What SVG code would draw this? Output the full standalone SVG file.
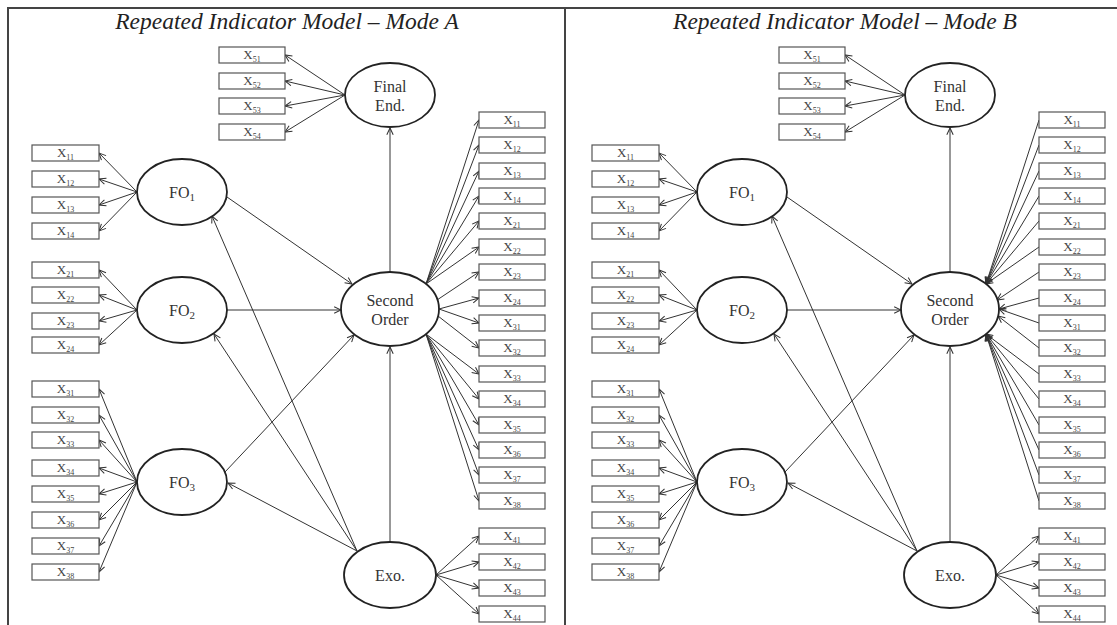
<svg xmlns="http://www.w3.org/2000/svg" width="1117" height="625" viewBox="0 0 1117 625">
<defs>
<style>
.frame{stroke:#444;stroke-width:2;fill:none}
.title{font-family:"Liberation Serif",serif;font-style:italic;font-size:23.5px;fill:#222;text-anchor:middle}
.box rect{fill:#fff;stroke:#555;stroke-width:1.2}
.box text{font-family:"Liberation Serif",serif;font-size:13px;fill:#444;text-anchor:middle}
.sub{font-size:8px}
.lat ellipse{fill:#fff;stroke:#222;stroke-width:1.8}
.lat text{font-family:"Liberation Serif",serif;font-size:16px;fill:#333;text-anchor:middle}
.lsub{font-size:11px}
.conn line{stroke:#333;stroke-width:1;marker-end:url(#arr)}
</style>
<marker id="arr" viewBox="0 0 10 10" refX="9.5" refY="5" markerWidth="8" markerHeight="8" markerUnits="userSpaceOnUse" orient="auto">
<path d="M1,1 L9.5,5 L1,9" fill="none" stroke="#333" stroke-width="1.3"/>
</marker>
</defs>
<rect width="1117" height="625" fill="#fff"/>
<path class="frame" d="M7,8 H1117 M8,8 V625 M565,8 V625"/>

<!-- ================= PANEL A ================= -->
<g id="panelA">
<text class="title" x="287" y="29">Repeated Indicator Model – Mode A</text>
<g id="a-connectors" class="conn">
<line x1="137" y1="192" x2="99" y2="153"/><line x1="137" y1="192" x2="99" y2="179"/><line x1="137" y1="192" x2="99" y2="205"/><line x1="137" y1="192" x2="99" y2="231"/>
<line x1="137" y1="310" x2="99" y2="270"/><line x1="137" y1="310" x2="99" y2="295"/><line x1="137" y1="310" x2="99" y2="321"/><line x1="137" y1="310" x2="99" y2="345"/>
<line x1="137" y1="482" x2="99" y2="389"/><line x1="137" y1="482" x2="99" y2="415"/><line x1="137" y1="482" x2="99" y2="440"/><line x1="137" y1="482" x2="99" y2="468"/><line x1="137" y1="482" x2="99" y2="494"/><line x1="137" y1="482" x2="99" y2="520"/><line x1="137" y1="482" x2="99" y2="546"/><line x1="137" y1="482" x2="99" y2="572"/>
<line x1="345" y1="95" x2="285" y2="55"/><line x1="345" y1="95" x2="285" y2="81"/><line x1="345" y1="95" x2="285" y2="106"/><line x1="345" y1="95" x2="285" y2="132"/>
<line x1="227" y1="197" x2="352" y2="284"/>
<line x1="227" y1="310" x2="341" y2="310"/>
<line x1="225" y1="472" x2="354" y2="335"/>
<line x1="390" y1="272" x2="390" y2="128"/>
<line x1="390" y1="542" x2="390" y2="347"/>
<line x1="357" y1="551" x2="212" y2="216"/>
<line x1="357" y1="551" x2="214" y2="334"/>
<line x1="357" y1="551" x2="228" y2="483"/>
<line x1="436" y1="575" x2="479" y2="536"/><line x1="436" y1="575" x2="479" y2="562"/><line x1="436" y1="575" x2="479" y2="588"/><line x1="436" y1="575" x2="479" y2="614"/>
<line x1="426" y1="284" x2="479" y2="120"/><line x1="426" y1="284" x2="479" y2="145"/><line x1="426" y1="284" x2="479" y2="171"/><line x1="426" y1="284" x2="479" y2="196"/><line x1="426" y1="284" x2="479" y2="221"/><line x1="426" y1="284" x2="479" y2="247"/>
<line x1="437" y1="300" x2="479" y2="272"/>
<line x1="439" y1="309" x2="479" y2="298"/><line x1="439" y1="309" x2="479" y2="323"/>
<line x1="438" y1="316" x2="479" y2="348"/>
<line x1="426" y1="334" x2="479" y2="374"/><line x1="426" y1="334" x2="479" y2="399"/><line x1="426" y1="334" x2="479" y2="425"/><line x1="426" y1="334" x2="479" y2="450"/><line x1="426" y1="334" x2="479" y2="475"/><line x1="426" y1="334" x2="479" y2="501"/>
</g>
<g id="a-final" class="lat"><ellipse cx="390" cy="95" rx="45" ry="32"/><text x="390" y="92">Final</text><text x="390" y="111">End.</text></g>
<g id="a-fo1" class="lat"><ellipse cx="182" cy="192" rx="45" ry="33"/><text x="182" y="198">FO<tspan class="lsub" dy="3">1</tspan></text></g>
<g id="a-fo2" class="lat"><ellipse cx="182" cy="310" rx="45" ry="33"/><text x="182" y="316">FO<tspan class="lsub" dy="3">2</tspan></text></g>
<g id="a-fo3" class="lat"><ellipse cx="182" cy="482" rx="45" ry="33"/><text x="182" y="488">FO<tspan class="lsub" dy="3">3</tspan></text></g>
<g id="a-second" class="lat"><ellipse cx="390" cy="309" rx="49" ry="37"/><text x="390" y="306">Second</text><text x="390" y="325">Order</text></g>
<g id="a-exo" class="lat"><ellipse cx="390" cy="575" rx="46" ry="33"/><text x="390" y="581">Exo.</text></g>

<g id="a-fo1-x11" class="box"><rect x="32" y="145" width="67" height="16"/><text x="65.5" y="157">X<tspan class="sub" dy="2.5">11</tspan></text></g>
<g id="a-fo1-x12" class="box"><rect x="32" y="171" width="67" height="16"/><text x="65.5" y="183">X<tspan class="sub" dy="2.5">12</tspan></text></g>
<g id="a-fo1-x13" class="box"><rect x="32" y="197" width="67" height="16"/><text x="65.5" y="209">X<tspan class="sub" dy="2.5">13</tspan></text></g>
<g id="a-fo1-x14" class="box"><rect x="32" y="223" width="67" height="16"/><text x="65.5" y="235">X<tspan class="sub" dy="2.5">14</tspan></text></g>
<g id="a-fo2-x21" class="box"><rect x="32" y="262" width="67" height="16"/><text x="65.5" y="274">X<tspan class="sub" dy="2.5">21</tspan></text></g>
<g id="a-fo2-x22" class="box"><rect x="32" y="287" width="67" height="16"/><text x="65.5" y="299">X<tspan class="sub" dy="2.5">22</tspan></text></g>
<g id="a-fo2-x23" class="box"><rect x="32" y="313" width="67" height="16"/><text x="65.5" y="325">X<tspan class="sub" dy="2.5">23</tspan></text></g>
<g id="a-fo2-x24" class="box"><rect x="32" y="337" width="67" height="16"/><text x="65.5" y="349">X<tspan class="sub" dy="2.5">24</tspan></text></g>
<g id="a-fo3-x31" class="box"><rect x="32" y="381" width="67" height="16"/><text x="65.5" y="393">X<tspan class="sub" dy="2.5">31</tspan></text></g>
<g id="a-fo3-x32" class="box"><rect x="32" y="407" width="67" height="16"/><text x="65.5" y="419">X<tspan class="sub" dy="2.5">32</tspan></text></g>
<g id="a-fo3-x33" class="box"><rect x="32" y="432" width="67" height="16"/><text x="65.5" y="444">X<tspan class="sub" dy="2.5">33</tspan></text></g>
<g id="a-fo3-x34" class="box"><rect x="32" y="460" width="67" height="16"/><text x="65.5" y="472">X<tspan class="sub" dy="2.5">34</tspan></text></g>
<g id="a-fo3-x35" class="box"><rect x="32" y="486" width="67" height="16"/><text x="65.5" y="498">X<tspan class="sub" dy="2.5">35</tspan></text></g>
<g id="a-fo3-x36" class="box"><rect x="32" y="512" width="67" height="16"/><text x="65.5" y="524">X<tspan class="sub" dy="2.5">36</tspan></text></g>
<g id="a-fo3-x37" class="box"><rect x="32" y="538" width="67" height="16"/><text x="65.5" y="550">X<tspan class="sub" dy="2.5">37</tspan></text></g>
<g id="a-fo3-x38" class="box"><rect x="32" y="564" width="67" height="16"/><text x="65.5" y="576">X<tspan class="sub" dy="2.5">38</tspan></text></g>
<g id="a-fe-x51" class="box"><rect x="219" y="47" width="66" height="16"/><text x="252" y="59">X<tspan class="sub" dy="2.5">51</tspan></text></g>
<g id="a-fe-x52" class="box"><rect x="219" y="73" width="66" height="16"/><text x="252" y="85">X<tspan class="sub" dy="2.5">52</tspan></text></g>
<g id="a-fe-x53" class="box"><rect x="219" y="98" width="66" height="16"/><text x="252" y="110">X<tspan class="sub" dy="2.5">53</tspan></text></g>
<g id="a-fe-x54" class="box"><rect x="219" y="124" width="66" height="16"/><text x="252" y="136">X<tspan class="sub" dy="2.5">54</tspan></text></g>
<g id="a-so-x11" class="box"><rect x="479" y="112" width="66" height="16"/><text x="512" y="124">X<tspan class="sub" dy="2.5">11</tspan></text></g>
<g id="a-so-x12" class="box"><rect x="479" y="137" width="66" height="16"/><text x="512" y="149">X<tspan class="sub" dy="2.5">12</tspan></text></g>
<g id="a-so-x13" class="box"><rect x="479" y="163" width="66" height="16"/><text x="512" y="175">X<tspan class="sub" dy="2.5">13</tspan></text></g>
<g id="a-so-x14" class="box"><rect x="479" y="188" width="66" height="16"/><text x="512" y="200">X<tspan class="sub" dy="2.5">14</tspan></text></g>
<g id="a-so-x21" class="box"><rect x="479" y="213" width="66" height="16"/><text x="512" y="225">X<tspan class="sub" dy="2.5">21</tspan></text></g>
<g id="a-so-x22" class="box"><rect x="479" y="239" width="66" height="16"/><text x="512" y="251">X<tspan class="sub" dy="2.5">22</tspan></text></g>
<g id="a-so-x23" class="box"><rect x="479" y="264" width="66" height="16"/><text x="512" y="276">X<tspan class="sub" dy="2.5">23</tspan></text></g>
<g id="a-so-x24" class="box"><rect x="479" y="290" width="66" height="16"/><text x="512" y="302">X<tspan class="sub" dy="2.5">24</tspan></text></g>
<g id="a-so-x31" class="box"><rect x="479" y="315" width="66" height="16"/><text x="512" y="327">X<tspan class="sub" dy="2.5">31</tspan></text></g>
<g id="a-so-x32" class="box"><rect x="479" y="340" width="66" height="16"/><text x="512" y="352">X<tspan class="sub" dy="2.5">32</tspan></text></g>
<g id="a-so-x33" class="box"><rect x="479" y="366" width="66" height="16"/><text x="512" y="378">X<tspan class="sub" dy="2.5">33</tspan></text></g>
<g id="a-so-x34" class="box"><rect x="479" y="391" width="66" height="16"/><text x="512" y="403">X<tspan class="sub" dy="2.5">34</tspan></text></g>
<g id="a-so-x35" class="box"><rect x="479" y="417" width="66" height="16"/><text x="512" y="429">X<tspan class="sub" dy="2.5">35</tspan></text></g>
<g id="a-so-x36" class="box"><rect x="479" y="442" width="66" height="16"/><text x="512" y="454">X<tspan class="sub" dy="2.5">36</tspan></text></g>
<g id="a-so-x37" class="box"><rect x="479" y="467" width="66" height="16"/><text x="512" y="479">X<tspan class="sub" dy="2.5">37</tspan></text></g>
<g id="a-so-x38" class="box"><rect x="479" y="493" width="66" height="16"/><text x="512" y="505">X<tspan class="sub" dy="2.5">38</tspan></text></g>
<g id="a-exo-x41" class="box"><rect x="479" y="528" width="66" height="16"/><text x="512" y="540">X<tspan class="sub" dy="2.5">41</tspan></text></g>
<g id="a-exo-x42" class="box"><rect x="479" y="554" width="66" height="16"/><text x="512" y="566">X<tspan class="sub" dy="2.5">42</tspan></text></g>
<g id="a-exo-x43" class="box"><rect x="479" y="580" width="66" height="16"/><text x="512" y="592">X<tspan class="sub" dy="2.5">43</tspan></text></g>
<g id="a-exo-x44" class="box"><rect x="479" y="606" width="66" height="16"/><text x="512" y="618">X<tspan class="sub" dy="2.5">44</tspan></text></g>
</g>

<!-- ================= PANEL B ================= -->
<g id="panelB" transform="translate(560,0)">
<text class="title" x="285" y="29">Repeated Indicator Model – Mode B</text>
<g id="b-connectors" class="conn">
<line x1="137" y1="192" x2="99" y2="153"/><line x1="137" y1="192" x2="99" y2="179"/><line x1="137" y1="192" x2="99" y2="205"/><line x1="137" y1="192" x2="99" y2="231"/>
<line x1="137" y1="310" x2="99" y2="270"/><line x1="137" y1="310" x2="99" y2="295"/><line x1="137" y1="310" x2="99" y2="321"/><line x1="137" y1="310" x2="99" y2="345"/>
<line x1="137" y1="482" x2="99" y2="389"/><line x1="137" y1="482" x2="99" y2="415"/><line x1="137" y1="482" x2="99" y2="440"/><line x1="137" y1="482" x2="99" y2="468"/><line x1="137" y1="482" x2="99" y2="494"/><line x1="137" y1="482" x2="99" y2="520"/><line x1="137" y1="482" x2="99" y2="546"/><line x1="137" y1="482" x2="99" y2="572"/>
<line x1="345" y1="95" x2="285" y2="55"/><line x1="345" y1="95" x2="285" y2="81"/><line x1="345" y1="95" x2="285" y2="106"/><line x1="345" y1="95" x2="285" y2="132"/>
<line x1="227" y1="197" x2="352" y2="284"/>
<line x1="227" y1="310" x2="341" y2="310"/>
<line x1="225" y1="472" x2="354" y2="335"/>
<line x1="390" y1="272" x2="390" y2="128"/>
<line x1="390" y1="542" x2="390" y2="347"/>
<line x1="357" y1="551" x2="212" y2="216"/>
<line x1="357" y1="551" x2="214" y2="334"/>
<line x1="357" y1="551" x2="228" y2="483"/>
<line x1="436" y1="575" x2="479" y2="536"/><line x1="436" y1="575" x2="479" y2="562"/><line x1="436" y1="575" x2="479" y2="588"/><line x1="436" y1="575" x2="479" y2="614"/>
<line x2="426" y2="284" x1="479" y1="120"/><line x2="426" y2="284" x1="479" y1="145"/><line x2="426" y2="284" x1="479" y1="171"/><line x2="426" y2="284" x1="479" y1="196"/><line x2="426" y2="284" x1="479" y1="221"/><line x2="426" y2="284" x1="479" y1="247"/>
<line x2="437" y2="300" x1="479" y1="272"/>
<line x2="439" y2="309" x1="479" y1="298"/><line x2="439" y2="309" x1="479" y1="323"/>
<line x2="438" y2="316" x1="479" y1="348"/>
<line x2="426" y2="334" x1="479" y1="374"/><line x2="426" y2="334" x1="479" y1="399"/><line x2="426" y2="334" x1="479" y1="425"/><line x2="426" y2="334" x1="479" y1="450"/><line x2="426" y2="334" x1="479" y1="475"/><line x2="426" y2="334" x1="479" y1="501"/>
</g>
<g id="b-final" class="lat"><ellipse cx="390" cy="95" rx="45" ry="32"/><text x="390" y="92">Final</text><text x="390" y="111">End.</text></g>
<g id="b-fo1" class="lat"><ellipse cx="182" cy="192" rx="45" ry="33"/><text x="182" y="198">FO<tspan class="lsub" dy="3">1</tspan></text></g>
<g id="b-fo2" class="lat"><ellipse cx="182" cy="310" rx="45" ry="33"/><text x="182" y="316">FO<tspan class="lsub" dy="3">2</tspan></text></g>
<g id="b-fo3" class="lat"><ellipse cx="182" cy="482" rx="45" ry="33"/><text x="182" y="488">FO<tspan class="lsub" dy="3">3</tspan></text></g>
<g id="b-second" class="lat"><ellipse cx="390" cy="309" rx="49" ry="37"/><text x="390" y="306">Second</text><text x="390" y="325">Order</text></g>
<g id="b-exo" class="lat"><ellipse cx="390" cy="575" rx="46" ry="33"/><text x="390" y="581">Exo.</text></g>

<g id="b-fo1-x11" class="box"><rect x="32" y="145" width="67" height="16"/><text x="65.5" y="157">X<tspan class="sub" dy="2.5">11</tspan></text></g>
<g id="b-fo1-x12" class="box"><rect x="32" y="171" width="67" height="16"/><text x="65.5" y="183">X<tspan class="sub" dy="2.5">12</tspan></text></g>
<g id="b-fo1-x13" class="box"><rect x="32" y="197" width="67" height="16"/><text x="65.5" y="209">X<tspan class="sub" dy="2.5">13</tspan></text></g>
<g id="b-fo1-x14" class="box"><rect x="32" y="223" width="67" height="16"/><text x="65.5" y="235">X<tspan class="sub" dy="2.5">14</tspan></text></g>
<g id="b-fo2-x21" class="box"><rect x="32" y="262" width="67" height="16"/><text x="65.5" y="274">X<tspan class="sub" dy="2.5">21</tspan></text></g>
<g id="b-fo2-x22" class="box"><rect x="32" y="287" width="67" height="16"/><text x="65.5" y="299">X<tspan class="sub" dy="2.5">22</tspan></text></g>
<g id="b-fo2-x23" class="box"><rect x="32" y="313" width="67" height="16"/><text x="65.5" y="325">X<tspan class="sub" dy="2.5">23</tspan></text></g>
<g id="b-fo2-x24" class="box"><rect x="32" y="337" width="67" height="16"/><text x="65.5" y="349">X<tspan class="sub" dy="2.5">24</tspan></text></g>
<g id="b-fo3-x31" class="box"><rect x="32" y="381" width="67" height="16"/><text x="65.5" y="393">X<tspan class="sub" dy="2.5">31</tspan></text></g>
<g id="b-fo3-x32" class="box"><rect x="32" y="407" width="67" height="16"/><text x="65.5" y="419">X<tspan class="sub" dy="2.5">32</tspan></text></g>
<g id="b-fo3-x33" class="box"><rect x="32" y="432" width="67" height="16"/><text x="65.5" y="444">X<tspan class="sub" dy="2.5">33</tspan></text></g>
<g id="b-fo3-x34" class="box"><rect x="32" y="460" width="67" height="16"/><text x="65.5" y="472">X<tspan class="sub" dy="2.5">34</tspan></text></g>
<g id="b-fo3-x35" class="box"><rect x="32" y="486" width="67" height="16"/><text x="65.5" y="498">X<tspan class="sub" dy="2.5">35</tspan></text></g>
<g id="b-fo3-x36" class="box"><rect x="32" y="512" width="67" height="16"/><text x="65.5" y="524">X<tspan class="sub" dy="2.5">36</tspan></text></g>
<g id="b-fo3-x37" class="box"><rect x="32" y="538" width="67" height="16"/><text x="65.5" y="550">X<tspan class="sub" dy="2.5">37</tspan></text></g>
<g id="b-fo3-x38" class="box"><rect x="32" y="564" width="67" height="16"/><text x="65.5" y="576">X<tspan class="sub" dy="2.5">38</tspan></text></g>
<g id="b-fe-x51" class="box"><rect x="219" y="47" width="66" height="16"/><text x="252" y="59">X<tspan class="sub" dy="2.5">51</tspan></text></g>
<g id="b-fe-x52" class="box"><rect x="219" y="73" width="66" height="16"/><text x="252" y="85">X<tspan class="sub" dy="2.5">52</tspan></text></g>
<g id="b-fe-x53" class="box"><rect x="219" y="98" width="66" height="16"/><text x="252" y="110">X<tspan class="sub" dy="2.5">53</tspan></text></g>
<g id="b-fe-x54" class="box"><rect x="219" y="124" width="66" height="16"/><text x="252" y="136">X<tspan class="sub" dy="2.5">54</tspan></text></g>
<g id="b-so-x11" class="box"><rect x="479" y="112" width="66" height="16"/><text x="512" y="124">X<tspan class="sub" dy="2.5">11</tspan></text></g>
<g id="b-so-x12" class="box"><rect x="479" y="137" width="66" height="16"/><text x="512" y="149">X<tspan class="sub" dy="2.5">12</tspan></text></g>
<g id="b-so-x13" class="box"><rect x="479" y="163" width="66" height="16"/><text x="512" y="175">X<tspan class="sub" dy="2.5">13</tspan></text></g>
<g id="b-so-x14" class="box"><rect x="479" y="188" width="66" height="16"/><text x="512" y="200">X<tspan class="sub" dy="2.5">14</tspan></text></g>
<g id="b-so-x21" class="box"><rect x="479" y="213" width="66" height="16"/><text x="512" y="225">X<tspan class="sub" dy="2.5">21</tspan></text></g>
<g id="b-so-x22" class="box"><rect x="479" y="239" width="66" height="16"/><text x="512" y="251">X<tspan class="sub" dy="2.5">22</tspan></text></g>
<g id="b-so-x23" class="box"><rect x="479" y="264" width="66" height="16"/><text x="512" y="276">X<tspan class="sub" dy="2.5">23</tspan></text></g>
<g id="b-so-x24" class="box"><rect x="479" y="290" width="66" height="16"/><text x="512" y="302">X<tspan class="sub" dy="2.5">24</tspan></text></g>
<g id="b-so-x31" class="box"><rect x="479" y="315" width="66" height="16"/><text x="512" y="327">X<tspan class="sub" dy="2.5">31</tspan></text></g>
<g id="b-so-x32" class="box"><rect x="479" y="340" width="66" height="16"/><text x="512" y="352">X<tspan class="sub" dy="2.5">32</tspan></text></g>
<g id="b-so-x33" class="box"><rect x="479" y="366" width="66" height="16"/><text x="512" y="378">X<tspan class="sub" dy="2.5">33</tspan></text></g>
<g id="b-so-x34" class="box"><rect x="479" y="391" width="66" height="16"/><text x="512" y="403">X<tspan class="sub" dy="2.5">34</tspan></text></g>
<g id="b-so-x35" class="box"><rect x="479" y="417" width="66" height="16"/><text x="512" y="429">X<tspan class="sub" dy="2.5">35</tspan></text></g>
<g id="b-so-x36" class="box"><rect x="479" y="442" width="66" height="16"/><text x="512" y="454">X<tspan class="sub" dy="2.5">36</tspan></text></g>
<g id="b-so-x37" class="box"><rect x="479" y="467" width="66" height="16"/><text x="512" y="479">X<tspan class="sub" dy="2.5">37</tspan></text></g>
<g id="b-so-x38" class="box"><rect x="479" y="493" width="66" height="16"/><text x="512" y="505">X<tspan class="sub" dy="2.5">38</tspan></text></g>
<g id="b-exo-x41" class="box"><rect x="479" y="528" width="66" height="16"/><text x="512" y="540">X<tspan class="sub" dy="2.5">41</tspan></text></g>
<g id="b-exo-x42" class="box"><rect x="479" y="554" width="66" height="16"/><text x="512" y="566">X<tspan class="sub" dy="2.5">42</tspan></text></g>
<g id="b-exo-x43" class="box"><rect x="479" y="580" width="66" height="16"/><text x="512" y="592">X<tspan class="sub" dy="2.5">43</tspan></text></g>
<g id="b-exo-x44" class="box"><rect x="479" y="606" width="66" height="16"/><text x="512" y="618">X<tspan class="sub" dy="2.5">44</tspan></text></g>
</g>
</svg>
